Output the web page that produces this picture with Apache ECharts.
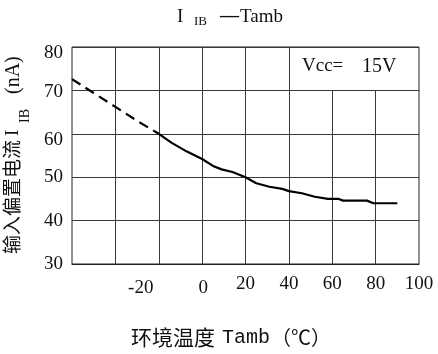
<!DOCTYPE html>
<html>
<head>
<meta charset="utf-8">
<script src="https://cdn.jsdelivr.net/npm/echarts@6/dist/echarts.min.js"></script>
<style>html,body{margin:0;padding:0;background:#fff;}#c{width:438px;height:354px;}</style>
</head>
<body>
<div id="c"></div>
<script>
// Dashed (extrapolated) part of the curve
var dashT = [-60, -50, -40, -30, -20];
var dashV = [72.6, 69.4, 66.2, 63.0, 60.0];
// Solid (measured) part of the curve
var solidT = [-20, -14, -7, 0, 5, 9, 14, 20, 25, 31, 37, 40, 46, 52, 58, 63, 65, 76, 79, 90];
var solidV = [60, 57.9, 55.9, 54.2, 52.6, 51.8, 51.2, 50.0, 48.6, 47.8, 47.3, 46.8, 46.3, 45.5, 45.0, 45.0, 44.6, 44.6, 44.0, 44.0];
// Axis values
var xMin = -60, xMax = 100, xStep = 20;
var yMin = 30, yMax = 80, yStep = 10;
var xLabelsShown = [-20, 0, 20, 40, 60, 80, 100];
// Vertical grid lines: full height, and those interrupted by the Vcc box
var fullGridX = [-40, -20, 0, 20, 40];
var partialGridX = [60, 80];
var partialTop = 70;

var serif = '"Liberation Serif","DejaVu Serif",serif';
var cjk = '"Noto Sans CJK SC","Liberation Serif",sans-serif';
var mono = '"Liberation Mono","DejaVu Sans Mono",monospace';

function pairs(xs, ys) { return xs.map(function (x, i) { return [x, ys[i]]; }); }

var markData = fullGridX.map(function (x) { return { xAxis: x }; });
partialGridX.forEach(function (x) {
  markData.push([{ coord: [x, yMin] }, { coord: [x, partialTop] }]);
});

var lab = { fontSize: 19, fontFamily: serif, color: '#111' };
function rs(pad) { return Object.assign({ padding: pad }, lab); }

var chart = echarts.init(document.getElementById('c'), null, { renderer: 'canvas' });
chart.setOption({
  animation: false,
  backgroundColor: '#fff',
  grid: { left: 72, right: 19, top: 47, bottom: 90, show: true, borderColor: '#222', borderWidth: 1, backgroundColor: 'transparent' },
  xAxis: {
    type: 'value', min: xMin, max: xMax, interval: xStep,
    axisLine: { show: true, lineStyle: { color: '#222', width: 1 } },
    axisTick: { show: false },
    splitLine: { show: false },
    axisLabel: {
      margin: 9, color: '#111', fontSize: 19, fontFamily: serif,
      formatter: function (v) {
        if (xLabelsShown.indexOf(v) < 0) return '';
        if (v === xLabelsShown[0]) return '{s|' + v + '}';
        if (v === 0) return '{z|' + v + '}';
        return '{n|' + v + '}';
      },
      rich: { s: rs([6, 36, 0, 0]), z: rs([6, 0, 0, 2]), n: rs([2, 0, 0, 0]) }
    }
  },
  yAxis: {
    type: 'value', min: yMin, max: yMax, interval: yStep,
    axisLine: { show: true, lineStyle: { color: '#222', width: 1 } },
    axisTick: { show: false },
    splitLine: { show: true, lineStyle: { color: '#3a3a3a', width: 1 } },
    axisLabel: {
      margin: 9, color: '#111', fontSize: 19, fontFamily: serif,
      formatter: function (v) {
        if (v === 80 || v === 60) return '{d|' + v + '}';
        if (v === 70) return '{e|' + v + '}';
        return '{n|' + v + '}';
      },
      rich: { d: rs([12, 0, 0, 0]), e: rs([3, 0, 0, 0]), n: rs([0, 0, 0, 0]) }
    }
  },
  series: [
    {
      type: 'line', data: pairs(dashT, dashV), symbol: 'none', smooth: false,
      lineStyle: { color: '#000', width: 2.2, type: [10, 6] }, z: 5
    },
    {
      type: 'line', data: pairs(solidT, solidV), symbol: 'none', smooth: false,
      lineStyle: { color: '#000', width: 2.2 }, z: 5,
      markLine: {
        silent: true, symbol: 'none', label: { show: false },
        lineStyle: { color: '#3a3a3a', width: 1, type: 'solid' },
        data: markData, z: 1
      }
    }
  ],
  graphic: [
    // Title: I_IB — Tamb
    { type: 'text', x: 177, y: 8, style: { text: 'I', font: '19px ' + serif, fill: '#111' } },
    { type: 'text', x: 194, y: 15, style: { text: 'IB', font: '13px ' + serif, fill: '#111' } },
    { type: 'text', x: 220, y: 7, style: { text: '—', font: 'bold 19px ' + serif, fill: '#111' } },
    { type: 'text', x: 240, y: 8, style: { text: 'Tamb', font: '19px ' + serif, fill: '#111' } },
    // Vcc box label
    { type: 'text', x: 302, y: 57, style: { text: 'Vcc=', font: '19px ' + serif, fill: '#111' } },
    { type: 'text', x: 362, y: 57, style: { text: '15V', font: '20px ' + serif, fill: '#111' } },
    // X axis name
    { type: 'text', x: 131, y: 327, style: { text: '环境温度', font: '21px ' + cjk, fill: '#111' } },
    { type: 'text', x: 222, y: 328, style: { text: 'Tamb', font: '20px ' + mono, fill: '#111' } },
    { type: 'text', x: 271, y: 327, style: { text: '（℃）', font: '20px ' + cjk, fill: '#111' } },
    // Y axis name (rotated, reads bottom to top)
    { type: 'text', x: 2, y: 254, rotation: Math.PI / 2, style: { text: '输入偏置电流', font: '19px ' + cjk, fill: '#111' } },
    { type: 'text', x: 4, y: 136, rotation: Math.PI / 2, style: { text: 'I', font: '19px ' + serif, fill: '#111' } },
    { type: 'text', x: 18, y: 123, rotation: Math.PI / 2, style: { text: 'IB', font: '14px ' + serif, fill: '#111' } },
    { type: 'text', x: 4, y: 94, rotation: Math.PI / 2, style: { text: '(nA)', font: '20px ' + serif, fill: '#111' } }
  ]
});
</script>
</body>
</html>
